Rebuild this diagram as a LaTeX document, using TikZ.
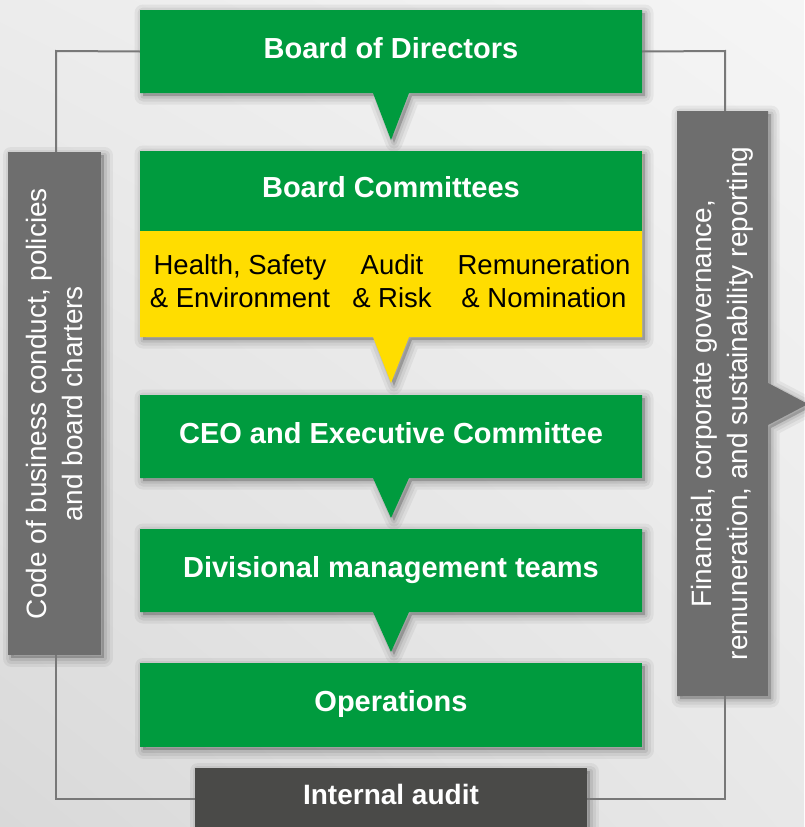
\documentclass[tikz,border=0pt]{standalone}
\usepackage{fontspec}
\setmainfont{Liberation Sans}
\usetikzlibrary{shadows,shadings}
\definecolor{bggreen}{RGB}{0,155,62}
\definecolor{bgyellow}{RGB}{255,221,0}
\definecolor{boxgray}{RGB}{110,110,110}
\definecolor{auditgray}{RGB}{74,74,72}
\definecolor{linegray}{RGB}{120,120,120}
\definecolor{bgA}{RGB}{236,236,236}
\definecolor{bgB}{RGB}{245,245,245}
\definecolor{bgC}{RGB}{217,217,217}
\definecolor{bgD}{RGB}{232,232,232}
\tikzset{
  softshadow/.style={
    general shadow={shadow xshift=3pt,shadow yshift=-3pt,draw=black,draw opacity=.05,line width=17pt,line join=round,fill=black,fill opacity=.2},
    general shadow={shadow xshift=3pt,shadow yshift=-3pt,draw=black,draw opacity=.06,line width=11pt,line join=round},
    general shadow={shadow xshift=3pt,shadow yshift=-3pt,draw=black,draw opacity=.08,line width=5pt,line join=round}},
  titletext/.style={text=white,font=\fontsize{29}{34}\selectfont\bfseries,inner sep=0pt,minimum width=502pt,text height=21pt,text depth=8pt},
  yeltext/.style={text=black,font=\fontsize{27.5}{33}\selectfont,align=center,inner sep=0pt},
  sidetext/.style={text=white,font=\fontsize{28}{35.5}\selectfont,align=center,rotate=90,inner sep=0pt},
  conn/.style={draw=linegray,line width=2pt}
}
\begin{document}
\begin{tikzpicture}[x=1pt,y=-1pt]
\useasboundingbox (0,0) rectangle (804,827);
\shade[upper left=bgA,upper right=bgB,lower left=bgC,lower right=bgD] (0,0) rectangle (804,827);

\coordinate (tl) at (56,51);
\coordinate (tr) at (725,51);
\coordinate (bl) at (56,799);
\coordinate (br) at (725,799);

% boxes (shapes)
\path[softshadow,fill=bggreen] (140,10) -- (642,10) -- (642,93) -- (409,93) -- (391,140) -- (373,93) -- (140,93) -- cycle;
\path[softshadow,fill=bgyellow] (140,151) -- (642,151) -- (642,337) -- (409,337) -- (391,383) -- (373,337) -- (140,337) -- cycle;
\fill[bggreen] (140,151) rectangle (642,231);
\path[softshadow,fill=bggreen] (140,395) -- (642,395) -- (642,478) -- (409,478) -- (391,518) -- (373,478) -- (140,478) -- cycle;
\path[softshadow,fill=bggreen] (140,529) -- (642,529) -- (642,612) -- (409,612) -- (391,652) -- (373,612) -- (140,612) -- cycle;
\path[softshadow,fill=bggreen] (140,663) rectangle (642,747);
\path[softshadow,fill=boxgray] (8,152) rectangle (101,655);
\path[softshadow,fill=boxgray] (677,111) -- (768,111) -- (768,383) -- (808,404) -- (768,425) -- (768,696) -- (677,696) -- cycle;
\path[softshadow,fill=auditgray] (195,768) rectangle (587,830);

% text nodes
\node[titletext,minimum height=83pt] (bod) at (391,51.5) {Board of Directors};
\node[titletext,minimum height=80pt] (bc) at (391,191) {Board Committees};
\node[yeltext] (hse) at (240,281) {Health, Safety\\\& Environment};
\node[yeltext] (ar) at (392,281) {Audit\\\& Risk};
\node[yeltext] (rn) at (544,281) {Remuneration\\\& Nomination};
\node[titletext,minimum height=83pt] (ceo) at (391,436.5) {CEO and Executive Committee};
\node[titletext,minimum height=83pt] (div) at (391,570.5) {Divisional management teams};
\node[titletext,minimum height=84pt] (ops) at (391,705) {Operations};
\node[titletext,font=\fontsize{28}{34}\selectfont\bfseries,text height=20pt,text depth=6pt,minimum width=392pt,minimum height=59pt] (ia) at (391,797.5) {Internal audit};
\node[inner sep=0pt,minimum width=93pt,minimum height=503pt] (code) at (54.5,403.5) {};
\node[sidetext] at (code.center) {Code of business conduct, policies\\and board charters};
\node[inner sep=0pt,minimum width=91pt,minimum height=585pt] (fin) at (722.5,403.5) {};
\node[sidetext] at (fin.center) {Financial, corporate governance,\\remuneration, and sustainability reporting};

% connectors
\draw[conn] (bod.west) -- (tl) -- (tl |- code.north);
\draw[conn] (bod.east) -- (tr) -- (tr |- fin.north);
\draw[conn] (tl |- code.south) -- (bl) -- (bl -| ia.west);
\draw[conn] (tr |- fin.south) -- (br) -- (br -| ia.east);
\end{tikzpicture}
\end{document}
